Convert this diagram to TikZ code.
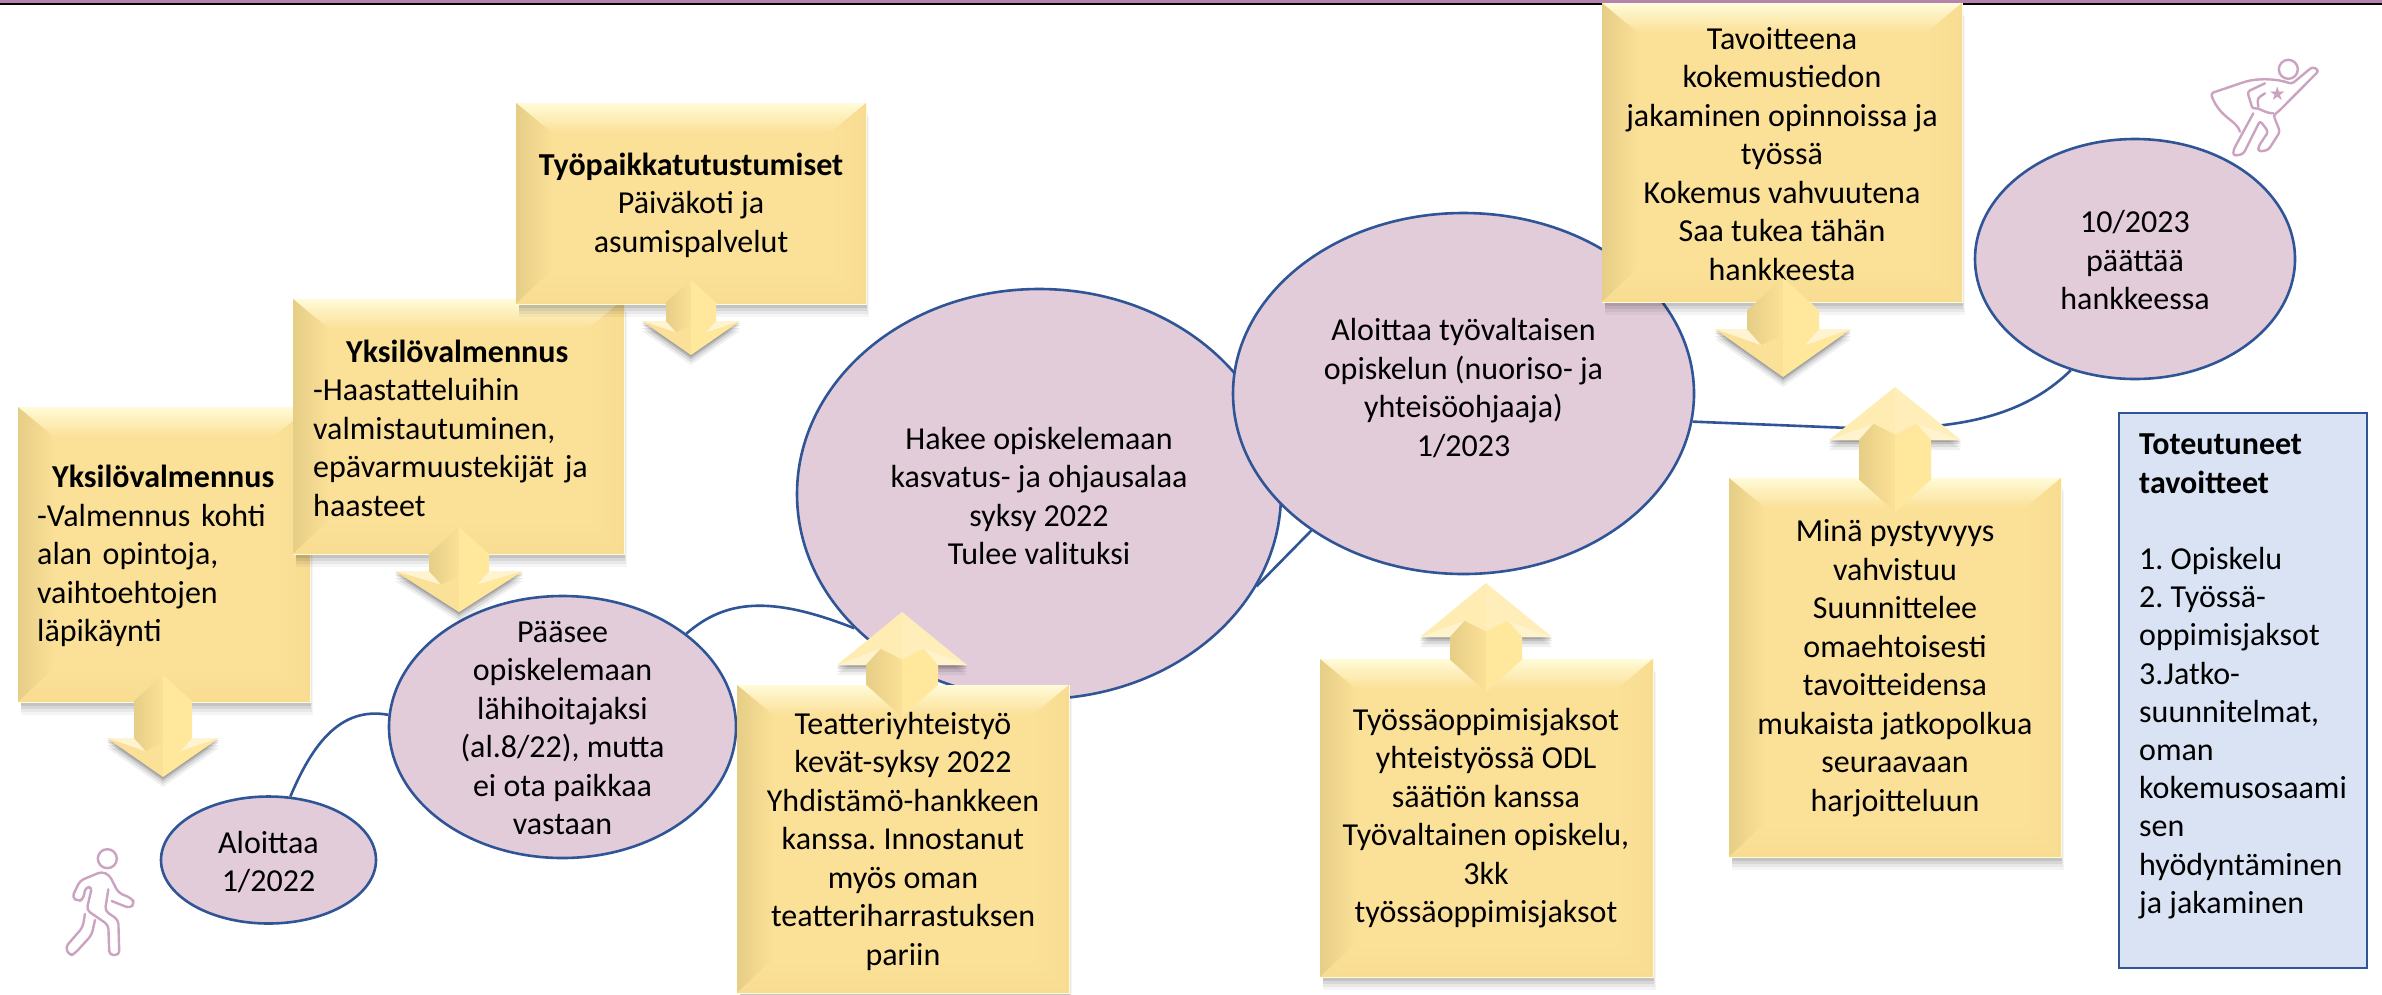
\documentclass[tikz,border=0pt]{standalone}
\usepackage{fontspec}
\setmainfont{Carlito}
\newfontfamily\symfont{DejaVu Sans}
\usetikzlibrary{shapes.geometric}
\definecolor{lineblue}{HTML}{2F5597}
\definecolor{pinkfill}{HTML}{E3CCDA}
\definecolor{iconpink}{HTML}{CBA3C0}
\definecolor{goldmid}{HTML}{FBE097}
\definecolor{goldlight}{HTML}{FFFBD8}
\definecolor{golddark}{HTML}{E6CE86}
\definecolor{goldedge}{HTML}{F7DC92}
\definecolor{goldright}{HTML}{FFE79C}
\definecolor{bluefill}{HTML}{DAE3F3}
\definecolor{topbar}{HTML}{B583AC}
\tikzset{
  txt/.style={font=\fontsize{32}{38.5}\selectfont\frenchspacing,text=black,inner sep=0pt},
  stage/.style={ellipse,draw=lineblue,line width=2.6pt,fill=pinkfill,inner sep=0pt},
  stagetext/.style={txt,align=center},
  link/.style={draw=lineblue,line width=2.6pt},
  boxtext/.style={txt,align=center},
  boxleft/.style={txt,align=left},
  icon/.style={draw=iconpink,line width=2.4pt,line cap=round,line join=round},
}
% bevelled panel: x0 y0 x1 y1
\newcommand{\panel}[4]{%
  \foreach \d/\o in {13/.04,10/.05,7/.07,4/.09}{
    \fill[black,opacity=\o] ({#1+3},{#2+\d}) rectangle ({#3+\d*.2},{#4+\d});}
  \fill[goldmid] (#1,#2) rectangle (#3,#4);
  \shade[top color=goldlight,bottom color=goldmid] (#1,#2)--(#3,#2)--({#3-36},{#2+30})--({#1+36},{#2+30})--cycle;
  \shade[left color=golddark,right color=goldmid] (#1,#2)--({#1+36},{#2+30})--({#1+36},{#4-34})--(#1,#4)--cycle;
  \shade[left color=goldmid,right color=goldedge] (#3,#2)--({#3-36},{#2+30})--({#3-36},{#4-34})--(#3,#4)--cycle;
  \shade[top color=goldmid,bottom color=goldedge] (#1,#4)--({#1+36},{#4-34})--({#3-36},{#4-34})--(#3,#4)--cycle;
  \draw[goldlight,line width=1pt] (#1,#4)--(#3,#4)--(#3,#2);
}
% block arrow: cx, inner end, neck, tip, shaft half width, head half width
\newcommand{\blockarrow}[6]{%
  \pgfmathsetmacro\sg{(#4>#2)?1:-1}
  \pgfmathsetmacro\capy{#2+\sg*#5*.9}
  \pgfmathsetmacro\chevo{#3+\sg*#5*.45}
  \pgfmathsetmacro\chevc{#3+\sg*#5*.15}
  \ifdim\sg pt>0pt
    \colorlet{hL}{goldmid}\colorlet{hR}{goldright}\colorlet{hW}{white!55!goldright}
  \else
    \colorlet{hL}{white!22!goldright}\colorlet{hR}{white!30!goldright}\colorlet{hW}{white!50!goldright}
  \fi
  \foreach \d/\o in {10/.06,7/.09,4/.12,2/.14}{
    \fill[black,opacity=\o] ({#1-#6},{#3+\d})--({#1+#6},{#3+\d})--(#1,{#4+\d})--cycle;}
  \fill[hL] ({#1-#6},#3)--(#1,#3)--(#1,#4)--cycle;
  \fill[hR] ({#1+#6},#3)--(#1,#3)--(#1,#4)--cycle;
  \fill[hW] ({#1-#6},#3)--({#1-#5},#3)--({#1-#5*.6},\chevo)--cycle;
  \fill[hW] ({#1+#6},#3)--({#1+#5},#3)--({#1+#5*.6},\chevo)--cycle;
  \shade[left color=golddark,right color=goldmid] (#1,#2)--({#1-#5},\capy)--({#1-#5},#3)--({#1-#5*.6},\chevo)--(#1,\chevc)--cycle;
  \fill[goldright] (#1,#2)--({#1+#5},\capy)--({#1+#5},#3)--({#1+#5*.6},\chevo)--(#1,\chevc)--cycle;
}
\begin{document}
\begin{tikzpicture}[x=1pt,y=-1pt]
\useasboundingbox (0,0) rectangle (2382,994);
\fill[white] (0,0) rectangle (2382,994);
\fill[topbar] (0,0) rectangle (2382,2.7);
\fill[black] (0,2.7) rectangle (2382,4.7);

% stages
\node[stage,minimum width=215pt,minimum height=127pt] (e1) at (268.5,860) {};
\node[stage,minimum width=347pt,minimum height=262pt] (e2) at (562.5,727) {};
\node[stage,minimum width=484pt,minimum height=410pt] (e3) at (1039,494) {};
\node[stage,minimum width=461pt,minimum height=361pt] (e4) at (1463.5,393.5) {};
\node[stage,minimum width=320pt,minimum height=240pt] (e5) at (2135,259) {};
\node[stagetext] (t1) at (268.5,862) {Aloittaa\\1/2022};
\node[stagetext] (t2) at (562.5,728) {Pääsee\\opiskelemaan\\lähihoitajaksi\\(al.8/22), mutta\\ei ota paikkaa\\vastaan};
\node[stagetext] (t3) at (1039,496) {Hakee opiskelemaan\\kasvatus- ja ohjausalaa\\syksy 2022\\Tulee valituksi};
\node[stagetext] (t4) at (1463.5,388) {Aloittaa työvaltaisen\\opiskelun (nuoriso- ja\\yhteisöohjaaja)\\1/2023};
\node[stagetext] (t5) at (2135,260) {10/2023\\päättää\\hankkeessa};

% connectors
\draw[link] (e1.71) .. controls (312,745) and (340,706) .. (e2.176);
\draw[link] (e2.37.6) .. controls (725,600) and (770,595) .. (e3.216.6);
\draw[link] (e3.-23.7) -- (e4.222);
\coordinate (bend) at (1850,428);
\draw[link] (e4.-7.4) -- (bend) .. controls (1950,431) and (2020,420) .. (e5.240);

% panels
\panel{18}{407}{310}{702}
\node[boxleft,text width=254pt,anchor=west] (b1) at (37,556) {\hspace*{15pt}\textbf{Yksilövalmennus}\\-Valmennus kohti\\alan opintoja,\\vaihtoehtojen\\läpikäynti};
\panel{293}{299}{624}{554}
\node[boxleft,text width=291pt,anchor=west] (b2) at (313,428) {\hspace*{33pt}\textbf{Yksilövalmennus}\\-Haastatteluihin\\valmistautuminen,\\epävarmuustekijät ja\\haasteet};
\panel{516}{103}{866}{304}
\node[boxtext] (b3) at (691,205) {\textbf{Työpaikkatutustumiset}\\Päiväkoti ja\\asumispalvelut};
\panel{737}{685}{1069}{993}
\node[boxtext] (b4) at (903,841) {Teatteriyhteistyö\\kevät-syksy 2022\\Yhdistämö-hankkeen\\kanssa. Innostanut\\myös oman\\teatteriharrastuksen\\pariin};
\panel{1320}{659}{1653}{977}
\node[boxtext] (b5) at (1486,818) {Työssäoppimisjaksot\\yhteistyössä ODL\\säätiön kanssa\\Työvaltainen opiskelu,\\3kk\\työssäoppimisjaksot};
\panel{1729}{478}{2061}{857}
\node[boxtext] (b6) at (1895,668) {Minä pystyvyys\\vahvistuu\\Suunnittelee\\omaehtoisesti\\tavoitteidensa\\mukaista jatkopolkua\\seuraavaan\\harjoitteluun};
\panel{1602}{3}{1962}{302}
\node[boxtext] (b7) at (1782,154) {Tavoitteena\\kokemustiedon\\jakaminen opinnoissa ja\\työssä\\Kokemus vahvuutena\\Saa tukea tähän\\hankkeesta};

% block arrows
\blockarrow{163}{675}{738}{777}{29}{56}
\blockarrow{459}{527}{571}{612}{30}{64}
\blockarrow{691}{280}{321}{355}{25}{49}
\blockarrow{902}{717}{665}{612}{36}{65}
\blockarrow{1486}{692}{637}{583}{36}{66}
\blockarrow{1895}{512}{440}{387}{36}{66}
\blockarrow{1783}{278}{329}{377}{36}{68}

% results box
\node[draw=lineblue,line width=2.6pt,fill=bluefill,minimum width=248pt,minimum height=555pt,inner sep=0pt] (res) at (2243,690.5) {};
\node[txt,font=\fontsize{32}{38.2}\selectfont\frenchspacing,align=left,anchor=north west] (restext) at (2139,434)
 {\textbf{Toteutuneet}\\\textbf{tavoitteet}\\~\\1. Opiskelu\\2. Työssä-\\oppimisjaksot\\3.Jatko-\\suunnitelmat,\\oman\\kokemusosaami\\sen\\hyödyntäminen\\ja jakaminen};

% walking figure
\begin{scope}[shift={(50,840)},x=.3333pt,y=-.3333pt]
\draw[icon] (172,56) circle [radius=9.5pt];
\draw[icon,rounded corners=4pt] (185,183) -- (240,205) -- (254,190) -- (245,175) -- (205,158) -- (178,105) -- (155,95) -- (90,122) -- (66,172) -- (84,184) -- (100,178) -- (106,142) -- (126,140) -- (110,210) -- (175,255) -- (178,345) -- (208,345) -- (205,240) -- (165,212) -- (175,148);
\draw[icon,rounded corners=4pt] (105,222) -- (98,262) -- (46,322) -- (60,348) -- (75,340) -- (125,285) -- (135,240);
\end{scope}
% flying figure
\begin{scope}[shift={(2190,50)},x=.3333pt,y=-.3333pt]
\draw[icon] (295,58) circle [radius=9.5pt];
\draw[icon,rounded corners=3pt] (150,245) .. controls (140,210) and (90,205) .. (62,130) -- (160,97) .. controls (200,85) and (260,85) .. (305,102) -- (368,50) -- (387,62) -- (265,185) -- (250,195) -- (270,245) -- (235,300) -- (205,305) -- (205,290) -- (235,245) -- (210,212) -- (160,312) -- (130,318) -- (130,300) -- (190,190);
\draw[icon,rounded corners=3pt] (225,100) -- (172,125) -- (188,178) .. controls (205,172) and (225,190) .. (250,190);
\draw[icon,rounded corners=3pt] (225,130) -- (202,145) -- (205,170);
\node[font=\symfont\fontsize{19}{19}\selectfont,text=iconpink,inner sep=0pt] (star) at (262,130) {★};
\end{scope}
\end{tikzpicture}
\end{document}
